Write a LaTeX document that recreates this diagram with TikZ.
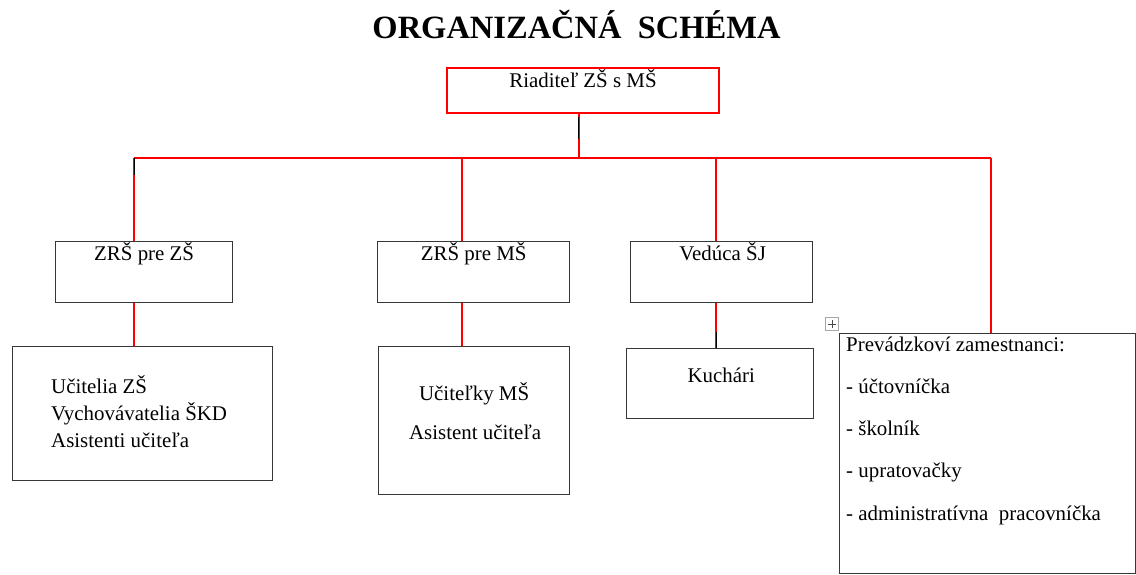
\documentclass[tikz,border=0pt]{standalone}
\usepackage{fontspec}
\setmainfont{Liberation Serif}
\definecolor{linered}{RGB}{255,0,0}
\definecolor{boxgray}{RGB}{55,55,55}

\begin{document}
\begin{tikzpicture}[x=1pt,y=-1pt,
    box/.style={draw=boxgray, line width=1.3pt, rectangle, inner sep=0pt, anchor=north west},
    redbox/.style={box, draw=linered, line width=2pt},
    lbl/.style={font=\fontsize{20.9}{25}\selectfont, inner sep=0pt, anchor=base},
    lbll/.style={lbl, anchor=base west},
    link/.style={draw=linered, line width=2pt},
    tick/.style={draw=black, line width=1pt}]
    \useasboundingbox (0,0) rectangle (1136,575);

    \node[font=\fontsize{32.5}{36}\selectfont\bfseries, inner sep=0pt, anchor=base] (title) at (576.5,39) {ORGANIZAČNÁ\ \ SCHÉMA};

    % boxes
    \node[redbox, minimum width=272pt, minimum height=45pt] (boss) at (446,67) {};
    \node[box, minimum width=177pt, minimum height=61pt] (zszrs) at (55,241) {};
    \node[box, minimum width=192pt, minimum height=61pt] (mszrs) at (377,241) {};
    \node[box, minimum width=182pt, minimum height=61pt] (sj) at (630,241) {};
    \node[box, minimum width=260pt, minimum height=134pt] (zsteach) at (12,346) {};
    \node[box, minimum width=191pt, minimum height=148pt] (msteach) at (378,346) {};
    \node[box, minimum width=187pt, minimum height=70pt] (cooks) at (626,348) {};
    \node[box, minimum width=296pt, minimum height=240pt] (staff) at (839,333) {};

    % texts
    \node[lbl] (bosstext) at ([yshift=-21pt]boss.north) {Riaditeľ ZŠ s MŠ};
    \node[lbl] (zszrstext) at ([yshift=-19pt]zszrs.north) {ZRŠ pre ZŠ};
    \node[lbl] (mszrstext) at ([yshift=-19pt]mszrs.north) {ZRŠ pre MŠ};
    \node[lbl] (sjtext) at ([xshift=1pt,yshift=-19pt]sj.north) {Vedúca ŠJ};
    \node[lbl] (cookstext) at ([xshift=1pt,yshift=-34pt]cooks.north) {Kuchári};
    \node[lbll] (zsteach1) at ([xshift=39pt,yshift=-47pt]zsteach.north west) {Učitelia ZŠ};
    \node[lbll] (zsteach2) at ([xshift=39pt,yshift=-74pt]zsteach.north west) {Vychovávatelia ŠKD};
    \node[lbll] (zsteach3) at ([xshift=39pt,yshift=-101pt]zsteach.north west) {Asistenti učiteľa};
    \node[lbl] (msteach1) at ([yshift=-54pt]msteach.north) {Učiteľky MŠ};
    \node[lbl] (msteach2) at ([xshift=1pt,yshift=-93pt]msteach.north) {Asistent učiteľa};
    \foreach \t [count=\i from 0] in {Prevádzkoví zamestnanci:, - účtovníčka, - školník, - upratovačky, - administratívna\ \ pracovníčka}
        \node[lbll] (staff\i) at ([xshift=7pt,yshift=-18pt-42.25pt*\i]staff.north west) {\t};

    % connectors
    \coordinate (bus) at (579,158);
    \coordinate (busl) at (134,158);
    \coordinate (busr) at (991,158);
    \coordinate (drop2) at (462,158);
    \coordinate (drop3) at (716,158);
    \draw[link] (boss.south -| bus) -- (bus);
    \draw[link] (busl) -- (busr);
    \draw[link] (busl) -- (busl |- zszrs.north);
    \draw[link] (drop2) -- (drop2 |- mszrs.north);
    \draw[link] (drop3) -- (drop3 |- sj.north);
    \draw[link] (busr) -- (busr |- staff.north);
    \draw[link] (zszrs.south -| busl) -- (zsteach.north -| busl);
    \draw[link] (mszrs.south -| drop2) -- (msteach.north -| drop2);
    \draw[link] (sj.south -| drop3) -- (cooks.north -| drop3);

    % small marks
    \draw[tick] (busl) -- ++(0,17);
    \draw[tick] ([xshift=-5pt,yshift=-3pt]boss.south) -- ++(0,22);
    \draw[tick] (cooks.north -| drop3) -- ++(0,-16);
    \node[draw=gray!70, line width=0.7pt, minimum size=13pt, inner sep=0pt, anchor=north west] (handle) at (825,317) {};
    \draw[black!70, line width=0.6pt] ([yshift=-3pt]handle.north) -- ([yshift=3pt]handle.south)
        ([xshift=3pt]handle.west) -- ([xshift=-3pt]handle.east);
\end{tikzpicture}
\end{document}
